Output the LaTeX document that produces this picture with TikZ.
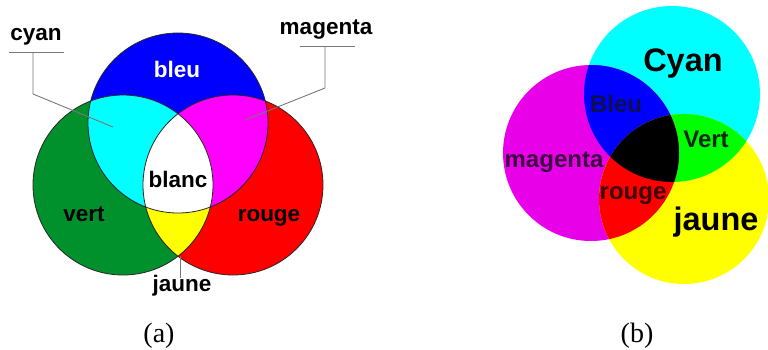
\documentclass[tikz,border=0pt]{standalone}
\usepackage{fontspec}
\setmainfont{Liberation Serif}
\setsansfont{Liberation Sans}
\definecolor{vgreen}{RGB}{0,145,45}
\definecolor{pcyan}{RGB}{0,255,255}
\definecolor{pmag}{RGB}{255,0,255}
\definecolor{pblue}{RGB}{0,0,255}
\definecolor{pred}{RGB}{255,0,0}
\definecolor{pgreen}{RGB}{0,255,0}
\definecolor{pyellow}{RGB}{255,255,0}
\definecolor{rmag}{RGB}{232,0,232}
\definecolor{leadgray}{RGB}{120,120,120}
\definecolor{tbleu}{RGB}{14,14,80}
\definecolor{tvert}{RGB}{10,40,10}
\definecolor{tmag}{RGB}{60,0,64}
\definecolor{trouge}{RGB}{58,0,0}
\begin{document}
\begin{tikzpicture}[x=1pt,y=-1pt,
  lab/.style={font=\sffamily\bfseries\fontsize{22.5}{27}\selectfont, anchor=base, inner sep=0pt},
  labb/.style={font=\sffamily\bfseries\fontsize{24}{28}\selectfont, anchor=base, inner sep=0pt},
  labbig/.style={font=\sffamily\bfseries\fontsize{32.5}{38}\selectfont, anchor=base, inner sep=0pt},
  capt/.style={font=\fontsize{28}{32}\selectfont, anchor=base, inner sep=0pt},
  leader/.style={draw=leadgray, line width=0.9pt},
  outline/.style={draw=black!85, line width=0.8pt}]
\useasboundingbox (0,0) rectangle (768,349);
% ---------- (a) additive ----------
\def\cG{(123,185) circle[radius=90pt]}
\def\cR{(233,185) circle[radius=90pt]}
\def\cB{(178,123) circle[radius=90pt]}
\fill[vgreen] \cG;
\fill[pred] \cR;
\fill[pblue] \cB;
\begin{scope}\clip \cG; \fill[pcyan] \cB; \end{scope}
\begin{scope}\clip \cR; \fill[pmag] \cB; \end{scope}
\begin{scope}\clip \cG; \fill[pyellow] \cR; \end{scope}
\begin{scope}\clip \cG; \clip \cR; \fill[white] \cB; \end{scope}
\draw[outline] \cG;
\draw[outline] \cR;
\draw[outline] \cB;
% leaders
\coordinate (cyA) at (9,52);
\coordinate (cyB) at (64,52);
\coordinate (cyC) at (33,52);
\coordinate (cyD) at (33,94);
\coordinate (cyE) at (113,127);
\draw[leader] (cyA) -- (cyB);
\draw[leader] (cyC) -- (cyD) -- (cyE);
\coordinate (mgA) at (300,46);
\coordinate (mgB) at (355,46);
\coordinate (mgC) at (325,46);
\coordinate (mgD) at (325,88);
\coordinate (mgE) at (245,120);
\draw[leader] (mgA) -- (mgB);
\draw[leader] (mgC) -- (mgD) -- (mgE);
\coordinate (jaA) at (180,256);
\coordinate (jaB) at (180,278);
\draw[leader] (jaA) -- (jaB);
% labels
\node[lab] (lcyan) at (36,40.5) {cyan};
\node[lab] (lmag) at (326,34.5) {magenta};
\node[lab, text=white] (lbleu) at (177,77) {bleu};
\node[lab] (lblanc) at (178,187) {blanc};
\node[lab] (lvert) at (84,221) {vert};
\node[lab] (lrouge) at (269,221) {rouge};
\node[lab] (ljaune) at (182,291) {jaune};
% ---------- (b) subtractive ----------
\def\sC{(672,94) circle[radius=88pt]}
\def\sM{(591,153) circle[radius=88pt]}
\def\sY{(684,199) circle[radius=85pt]}
\fill[pcyan] \sC;
\fill[rmag] \sM;
\fill[pyellow] \sY;
\begin{scope}\clip \sC; \fill[pblue] \sM; \end{scope}
\begin{scope}\clip \sC; \fill[pgreen] \sY; \end{scope}
\begin{scope}\clip \sM; \fill[pred] \sY; \end{scope}
\begin{scope}\clip \sC; \clip \sM; \fill[black] \sY; \end{scope}
\node[labbig] (rcyan) at (683,71) {Cyan};
\node[labb, text=tbleu] (rbleu) at (616,112) {Bleu};
\node[labb, text=tvert] (rvert) at (706,147) {Vert};
\node[labb, text=tmag] (rmagenta) at (554,167) {magenta};
\node[labb, text=trouge] (rrouge) at (633,199) {rouge};
\node[labbig] (rjaune) at (716,230) {jaune};
% captions
\node[capt] (capa) at (159,342) {(a)};
\node[capt] (capb) at (637,342) {(b)};
\end{tikzpicture}
\end{document}
